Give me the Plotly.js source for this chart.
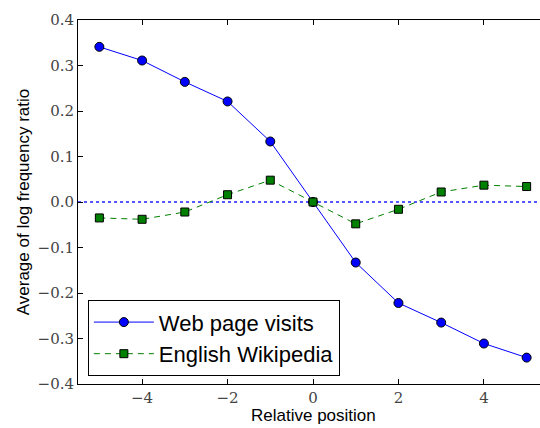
<!DOCTYPE html>
<html><head><meta charset="utf-8">
<script src="https://cdn.plot.ly/plotly-3.0.1.min.js"></script>
<style>html,body{margin:0;padding:0;overflow:hidden;width:540px;height:428px;background:#fff}</style>
</head><body><div id="c"></div>
<script>
const positions = [-5,-4,-3,-2,-1,0,1,2,3,4,5];
const webVisits = [0.341,0.311,0.264,0.221,0.133,0.0,-0.133,-0.222,-0.265,-0.311,-0.342];
const wikipedia = [-0.035,-0.038,-0.022,0.016,0.048,0.0,-0.048,-0.016,0.022,0.037,0.034];
const yTicks = [-0.4,-0.3,-0.2,-0.1,0.0,0.1,0.2,0.3,0.4];
const yTickText = yTicks.map(v => (v<0?'\u2212':'') + Math.abs(v).toFixed(1));
const xTicks = [-4,-2,0,2,4];
const xTickText = xTicks.map(v => (v<0?'\u2212':'') + Math.abs(v));

const traces = [
 {x:[-5.5,5.5], y:[0,0], mode:'lines', line:{color:'#2020ff',dash:'dot',width:1.3}, showlegend:false, hoverinfo:'skip'},
 {x:positions, y:webVisits, name:'Web page visits', mode:'lines+markers',
  line:{color:'#0000ff',width:1}, marker:{symbol:'circle',size:9,color:'#0000ff',line:{color:'#000',width:1}}},
 {x:positions, y:wikipedia, name:'English Wikipedia', mode:'lines+markers',
  line:{color:'#008000',width:1,dash:'6px,5px'}, marker:{symbol:'square',size:8,color:'#008000',line:{color:'#000',width:1}}}
];
const axisFont = {family:'DejaVu Serif, serif', size:15, color:'#444'};
const layout = {
 width:560, height:428,
 margin:{l:78,r:12,t:20,b:44},
 paper_bgcolor:'#fff', plot_bgcolor:'#fff',
 showlegend:true,
 legend:{x:0.021,y:0.23,xanchor:'left',yanchor:'top',bordercolor:'#000',borderwidth:1,bgcolor:'#fff',
   font:{family:'Liberation Sans',size:22,color:'#000'}, itemwidth:60, tracegroupgap:0},
 xaxis:{range:[-5.5,5.5], tickvals:xTicks, ticktext:xTickText, ticks:'inside', ticklen:5, tickcolor:'#000',
   showline:true, linecolor:'#000', linewidth:1, mirror:'ticks', showgrid:false, zeroline:false,
   tickfont:axisFont},
 yaxis:{range:[-0.4,0.4], tickvals:yTicks, ticktext:yTickText, ticks:'inside', ticklen:5, tickcolor:'#000',
   showline:true, linecolor:'#000', linewidth:1, mirror:'ticks', showgrid:false, zeroline:false,
   tickfont:axisFont, title:{text:'Average of log frequency ratio', font:{family:'Liberation Sans',size:17,color:'#000'}, standoff:3}},
 annotations:[{text:'Relative position', xref:'paper', yref:'paper', x:0.5, y:-0.118, xanchor:'center', yanchor:'bottom',
   showarrow:false, font:{family:'Liberation Sans',size:17,color:'#000'}}]
};
Plotly.newPlot('c', traces, layout, {displayModeBar:false, staticPlot:true});
</script></body></html>
